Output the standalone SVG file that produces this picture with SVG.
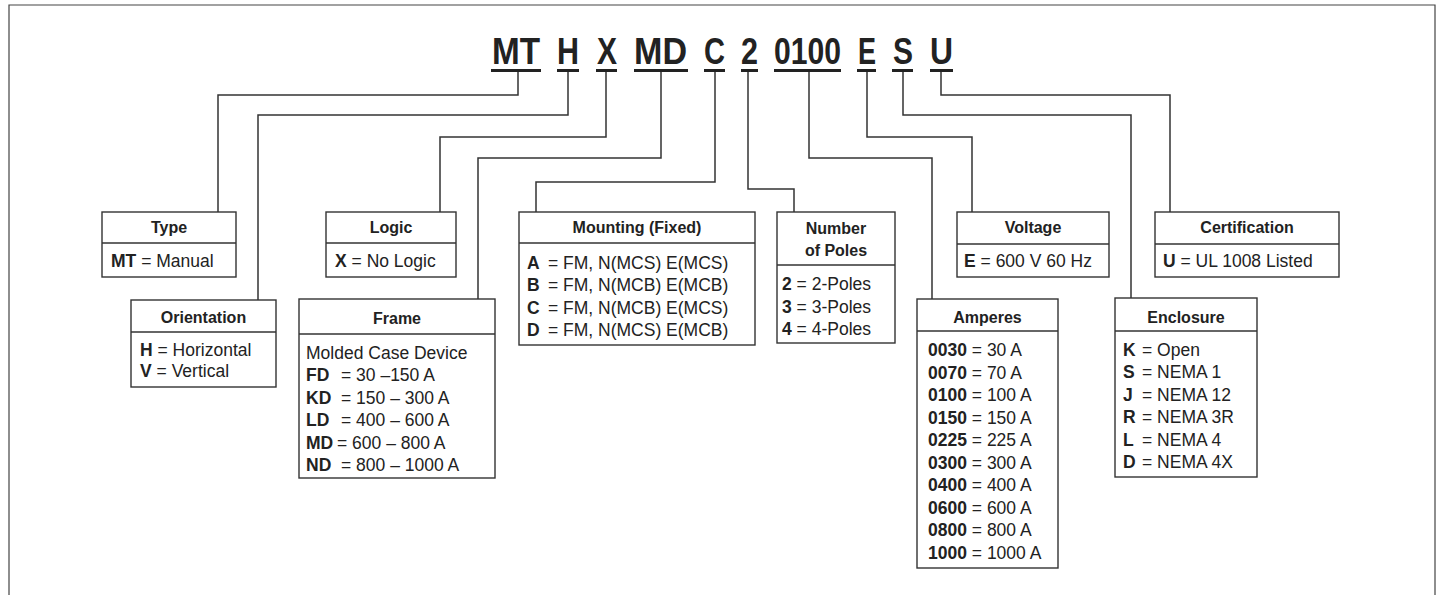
<svg xmlns="http://www.w3.org/2000/svg" width="1439" height="595" viewBox="0 0 1439 595">
<style>
.frame{fill:none;stroke:#444;stroke-width:1.2}
.box{fill:#fff;stroke:#333;stroke-width:1.4}
.div{stroke:#333;stroke-width:1.4}
.con{fill:none;stroke:#333;stroke-width:1.5}
.ul{fill:#222}
.tt{font-family:"Liberation Sans",Arial,sans-serif;font-weight:bold;font-size:36px;fill:#222}
.hd{font-family:"Liberation Sans",Arial,sans-serif;font-weight:bold;font-size:16px;fill:#222;text-anchor:middle}
.bd{font-family:"Liberation Sans",Arial,sans-serif;font-size:17.5px;fill:#222}
.k{font-weight:bold}
</style>
<rect width="1439" height="595" fill="#fff"/>
<path class="frame" d="M9,595 V5 H1435 V595"/>

<g id="title">
<text class="tt" x="492" y="64" textLength="48" lengthAdjust="spacingAndGlyphs">MT</text>
<text class="tt" x="557" y="64" textLength="22" lengthAdjust="spacingAndGlyphs">H</text>
<text class="tt" x="597" y="64" textLength="20" lengthAdjust="spacingAndGlyphs">X</text>
<text class="tt" x="634" y="64" textLength="53" lengthAdjust="spacingAndGlyphs">MD</text>
<text class="tt" x="704" y="64" textLength="21" lengthAdjust="spacingAndGlyphs">C</text>
<text class="tt" x="741" y="64" textLength="17" lengthAdjust="spacingAndGlyphs">2</text>
<text class="tt" x="774" y="64" textLength="67" lengthAdjust="spacingAndGlyphs">0100</text>
<text class="tt" x="858" y="64" textLength="18" lengthAdjust="spacingAndGlyphs">E</text>
<text class="tt" x="893" y="64" textLength="20" lengthAdjust="spacingAndGlyphs">S</text>
<text class="tt" x="930" y="64" textLength="23" lengthAdjust="spacingAndGlyphs">U</text>
<rect class="ul" x="491" y="69" width="50" height="3"/>
<rect class="ul" x="557" y="69" width="22" height="3"/>
<rect class="ul" x="596" y="69" width="21" height="3"/>
<rect class="ul" x="634" y="69" width="54" height="3"/>
<rect class="ul" x="704" y="69" width="21" height="3"/>
<rect class="ul" x="741" y="69" width="17" height="3"/>
<rect class="ul" x="774" y="69" width="67" height="3"/>
<rect class="ul" x="857" y="69" width="19" height="3"/>
<rect class="ul" x="892" y="69" width="21" height="3"/>
<rect class="ul" x="930" y="69" width="23" height="3"/>
</g>

<g id="connectors">
<polyline class="con" points="518,72 518,95 218,95 218,212"/>
<polyline class="con" points="568,72 568,115 258,115 258,300"/>
<polyline class="con" points="606,72 606,137 440,137 440,212"/>
<polyline class="con" points="661,72 661,158 478,158 478,299"/>
<polyline class="con" points="715,72 715,182 536,182 536,212"/>
<polyline class="con" points="748,72 748,189 794,189 794,212"/>
<polyline class="con" points="809,72 809,158 932,158 932,299"/>
<polyline class="con" points="867,72 867,137 972,137 972,212"/>
<polyline class="con" points="903,72 903,115 1131,115 1131,298"/>
<polyline class="con" points="941,72 941,95 1170,95 1170,212"/>
</g>

<g id="type">
<rect class="box" x="102" y="212" width="134" height="65"/>
<line class="div" x1="102" y1="243" x2="236" y2="243"/>
<text class="hd" x="169" y="233">Type</text>
<text class="bd" x="111" y="267"><tspan class="k">MT</tspan> = Manual</text>
</g>

<g id="orientation">
<rect class="box" x="131" y="300" width="145" height="87"/>
<line class="div" x1="131" y1="332" x2="276" y2="332"/>
<text class="hd" x="203.5" y="323">Orientation</text>
<text class="bd" x="140" y="356"><tspan class="k">H</tspan> = Horizontal</text>
<text class="bd" x="140" y="377"><tspan class="k">V</tspan> = Vertical</text>
</g>

<g id="logic">
<rect class="box" x="326" y="212" width="130" height="65"/>
<line class="div" x1="326" y1="243" x2="456" y2="243"/>
<text class="hd" x="391" y="233">Logic</text>
<text class="bd" x="335" y="267"><tspan class="k">X</tspan> = No Logic</text>
</g>

<g id="frame">
<rect class="box" x="299" y="299" width="196" height="179"/>
<line class="div" x1="299" y1="334" x2="495" y2="334"/>
<text class="hd" x="397" y="324">Frame</text>
<text class="bd" x="306" y="359">Molded Case Device</text>
<text class="bd" x="306" y="381"><tspan class="k">FD</tspan><tspan x="341">= 30 –150 A</tspan></text>
<text class="bd" x="306" y="404"><tspan class="k">KD</tspan><tspan x="341">= 150 – 300 A</tspan></text>
<text class="bd" x="306" y="426"><tspan class="k">LD</tspan><tspan x="341">= 400 – 600 A</tspan></text>
<text class="bd" x="306" y="449"><tspan class="k">MD</tspan><tspan x="337">= 600 – 800 A</tspan></text>
<text class="bd" x="306" y="471"><tspan class="k">ND</tspan><tspan x="341">= 800 – 1000 A</tspan></text>
</g>

<g id="mounting">
<rect class="box" x="519" y="212" width="236" height="133"/>
<line class="div" x1="519" y1="243" x2="755" y2="243"/>
<text class="hd" x="637" y="233">Mounting (Fixed)</text>
<text class="bd" x="527" y="269"><tspan class="k">A</tspan><tspan x="548">= FM, N(MCS) E(MCS)</tspan></text>
<text class="bd" x="527" y="291"><tspan class="k">B</tspan><tspan x="548">= FM, N(MCB) E(MCB)</tspan></text>
<text class="bd" x="527" y="314"><tspan class="k">C</tspan><tspan x="548">= FM, N(MCB) E(MCS)</tspan></text>
<text class="bd" x="527" y="336"><tspan class="k">D</tspan><tspan x="548">= FM, N(MCS) E(MCB)</tspan></text>
</g>

<g id="poles">
<rect class="box" x="777" y="212" width="118" height="131"/>
<line class="div" x1="777" y1="265" x2="895" y2="265"/>
<text class="hd" x="836" y="234">Number</text>
<text class="hd" x="836" y="256">of Poles</text>
<text class="bd" x="782" y="290"><tspan class="k">2</tspan> = 2-Poles</text>
<text class="bd" x="782" y="313"><tspan class="k">3</tspan> = 3-Poles</text>
<text class="bd" x="782" y="335"><tspan class="k">4</tspan> = 4-Poles</text>
</g>

<g id="amperes">
<rect class="box" x="917" y="299" width="141" height="269"/>
<line class="div" x1="917" y1="331" x2="1058" y2="331"/>
<text class="hd" x="987.5" y="323">Amperes</text>
<text class="bd" x="928" y="356"><tspan class="k">0030</tspan> = 30 A</text>
<text class="bd" x="928" y="378.5"><tspan class="k">0070</tspan> = 70 A</text>
<text class="bd" x="928" y="401"><tspan class="k">0100</tspan> = 100 A</text>
<text class="bd" x="928" y="423.5"><tspan class="k">0150</tspan> = 150 A</text>
<text class="bd" x="928" y="446"><tspan class="k">0225</tspan> = 225 A</text>
<text class="bd" x="928" y="468.5"><tspan class="k">0300</tspan> = 300 A</text>
<text class="bd" x="928" y="491"><tspan class="k">0400</tspan> = 400 A</text>
<text class="bd" x="928" y="513.5"><tspan class="k">0600</tspan> = 600 A</text>
<text class="bd" x="928" y="536"><tspan class="k">0800</tspan> = 800 A</text>
<text class="bd" x="928" y="558.5"><tspan class="k">1000</tspan> = 1000 A</text>
</g>

<g id="voltage">
<rect class="box" x="957" y="212" width="152" height="65"/>
<line class="div" x1="957" y1="244" x2="1109" y2="244"/>
<text class="hd" x="1033" y="233">Voltage</text>
<text class="bd" x="964" y="267"><tspan class="k">E</tspan> = 600 V 60 Hz</text>
</g>

<g id="enclosure">
<rect class="box" x="1115" y="298" width="142" height="179"/>
<line class="div" x1="1115" y1="331" x2="1257" y2="331"/>
<text class="hd" x="1186" y="323">Enclosure</text>
<text class="bd" x="1123" y="356"><tspan class="k">K</tspan><tspan x="1142">= Open</tspan></text>
<text class="bd" x="1123" y="378"><tspan class="k">S</tspan><tspan x="1142">= NEMA 1</tspan></text>
<text class="bd" x="1123" y="401"><tspan class="k">J</tspan><tspan x="1142">= NEMA 12</tspan></text>
<text class="bd" x="1123" y="423"><tspan class="k">R</tspan><tspan x="1142">= NEMA 3R</tspan></text>
<text class="bd" x="1123" y="446"><tspan class="k">L</tspan><tspan x="1142">= NEMA 4</tspan></text>
<text class="bd" x="1123" y="468"><tspan class="k">D</tspan><tspan x="1142">= NEMA 4X</tspan></text>
</g>

<g id="certification">
<rect class="box" x="1155" y="212" width="184" height="65"/>
<line class="div" x1="1155" y1="244" x2="1339" y2="244"/>
<text class="hd" x="1247" y="233">Certification</text>
<text class="bd" x="1163" y="267"><tspan class="k">U</tspan> = UL 1008 Listed</text>
</g>
</svg>
